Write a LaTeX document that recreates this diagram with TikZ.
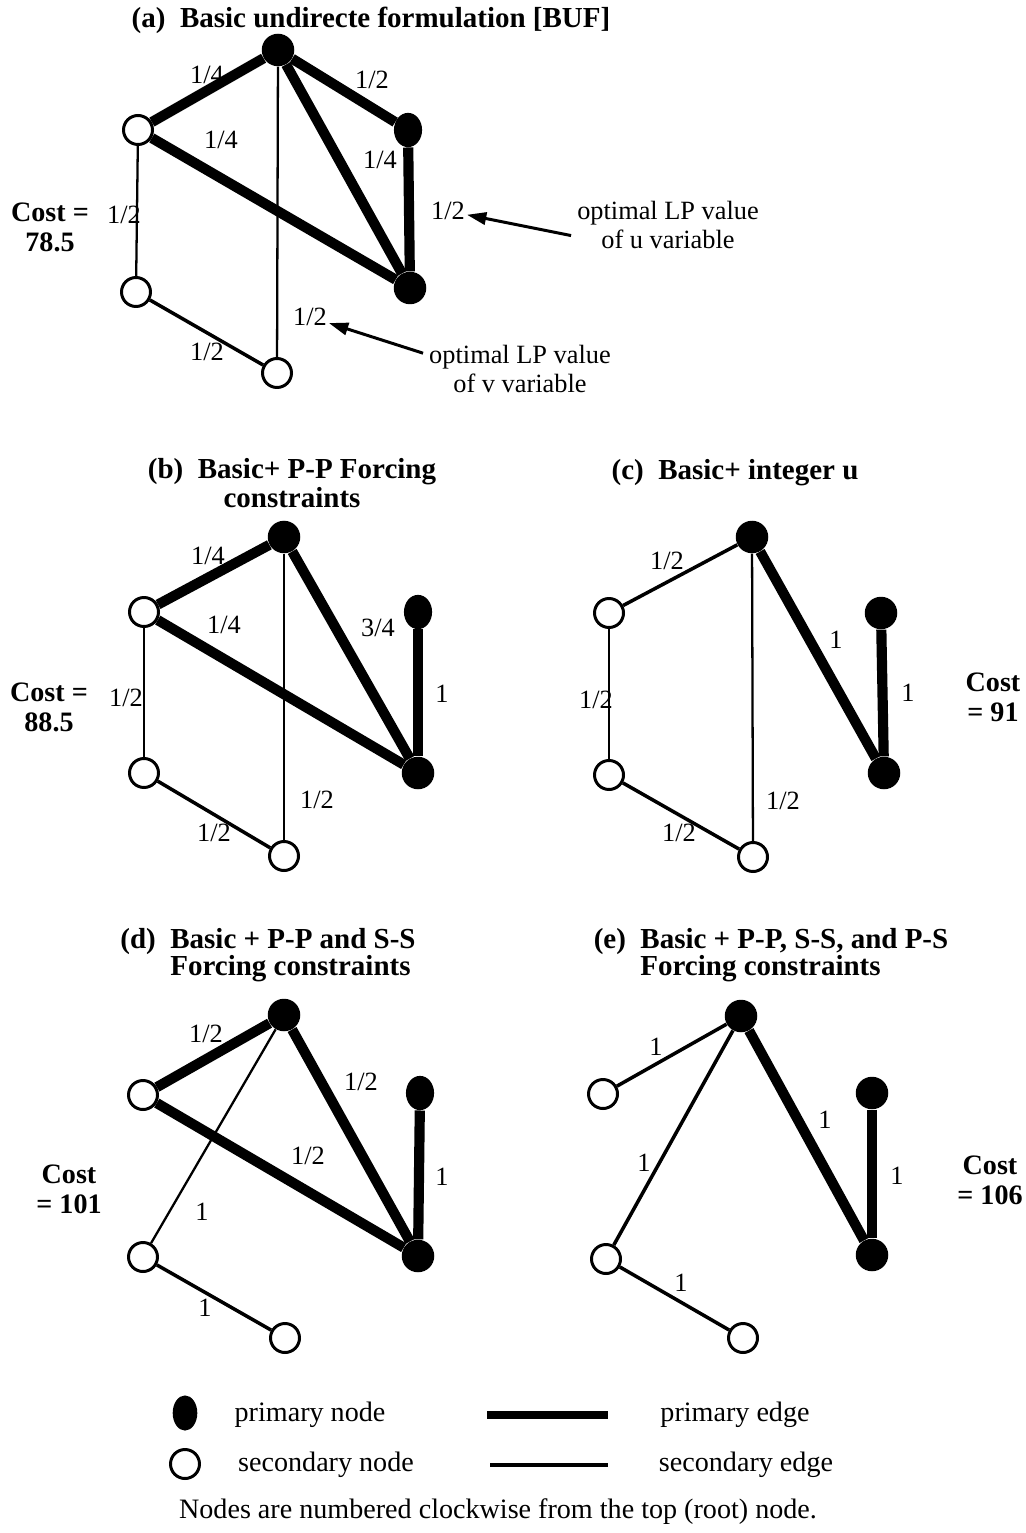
\documentclass[tikz,border=0pt]{standalone}
\usepackage{fontspec}
\setmainfont{Liberation Serif}
\usetikzlibrary{arrows.meta,shapes.geometric}

\begin{document}
\begin{tikzpicture}[x=0.02cm, y=-0.02cm, every node/.style={font=\fontsize{15}{17}\selectfont}, pnode/.style={circle,fill=black,inner sep=0pt,minimum size=18.5pt}, pnodes/.style={ellipse,fill=black,inner sep=0pt,minimum width=16pt,minimum height=19.5pt}, snode/.style={circle,draw=black,fill=white,line width=1.7pt,inner sep=0pt,minimum size=16.5pt}, pedge/.style={line width=5.8pt}, sedge/.style={line width=1.3pt}, sedgeb/.style={line width=2pt}, lbl/.style={inner sep=1pt}, ttl/.style={font=\fontsize{16.5}{15}\selectfont\bfseries,align=left}, cost/.style={font=\fontsize{16}{17}\selectfont\bfseries,align=center}, note/.style={align=center,font=\fontsize{15}{16}\selectfont}, key/.style={font=\fontsize{16}{18}\selectfont}, arr/.style={-{Triangle[length=11pt,width=7pt]},line width=1.7pt}]
\fill[white] (0,0) rectangle (1026,1533);
\useasboundingbox (0,0) rectangle (1026,1533);

% (a)
\node[ttl] (ta) at (371,20) {(a)\ \ Basic undirecte formulation [BUF]};
\node[pnode] (a1) at (278,50) {};
\node[pnodes] (a2) at (408,130) {};
\node[pnode] (a3) at (410,288) {};
\node[snode] (a4) at (277,373) {};
\node[snode] (a5) at (136,292) {};
\node[snode] (a6) at (138,130) {};
\draw[pedge] (a1)--(a6); \draw[pedge] (a1)--(a2); \draw[pedge] (a1)--(a3); \draw[pedge] (a6)--(a3); \draw[pedge] (a2)--(a3);
\draw[sedge] (a6)--(a5); \draw[sedge] (a1)--(a4); \draw[sedgeb] (a5)--(a4);
\node[lbl] (a16) at (207,75) {1/4};
\node[lbl] (a12) at (372,80) {1/2};
\node[lbl] (a63) at (221,140) {1/4};
\node[lbl] (a13) at (380,160) {1/4};
\node[lbl] (a23) at (448,211) {1/2};
\node[lbl] (a65) at (124,215) {1/2};
\node[lbl] (a14) at (310,317) {1/2};
\node[lbl] (a54) at (207,352) {1/2};
\node[cost] (ca) at (50,227) {Cost =\\78.5};
\node[note] (un) at (668,225) {optimal LP value\\of u variable};
\node[note] (vn) at (520,369) {optimal LP value\\of v variable};
\draw[arr] ([yshift=-6pt]un.west) -- (a23);
\draw[arr] ([yshift=9pt]vn.west) -- (a14);

% (b)
\node[ttl,align=center] (tb) at (292,483) {(b)\ \ Basic+ P-P Forcing\\constraints};
\node[pnode] (b1) at (284,537) {};
\node[pnodes] (b2) at (418,612) {};
\node[pnode] (b3) at (418,773) {};
\node[snode] (b4) at (284,856) {};
\node[snode] (b5) at (144,773) {};
\node[snode] (b6) at (144,612) {};
\draw[pedge] (b1)--(b6); \draw[pedge] (b6)--(b3); \draw[pedge] (b1)--(b3); \draw[pedge] (b2)--(b3);
\draw[sedge] (b6)--(b5); \draw[sedge] (b1)--(b4); \draw[sedgeb] (b5)--(b4);
\node[lbl] (b16) at (208,556) {1/4};
\node[lbl] (b63) at (224,625) {1/4};
\node[lbl] (b13) at (378,628) {3/4};
\node[lbl] (b23) at (442,694) {1};
\node[lbl] (b65) at (126,698) {1/2};
\node[lbl] (b14) at (317,800) {1/2};
\node[lbl] (b54) at (214,833) {1/2};
\node[cost] (cb) at (49,707) {Cost =\\88.5};

% (c)
\node[ttl] (tc) at (735,473) {(c)\ \ Basic+ integer u};
\node[pnode] (c1) at (752,537) {};
\node[pnode] (c2) at (881,613) {};
\node[pnode] (c3) at (884,773) {};
\node[snode] (c4) at (753,857) {};
\node[snode] (c5) at (609,775) {};
\node[snode] (c6) at (609,613) {};
\draw[pedge] (c1)--(c3); \draw[pedge] (c2)--(c3);
\draw[sedgeb] (c1)--(c6); \draw[sedge] (c6)--(c5); \draw[sedge] (c1)--(c4); \draw[sedgeb] (c5)--(c4);
\node[lbl] (c16) at (667,561) {1/2};
\node[lbl] (c13) at (836,640) {1};
\node[lbl] (c23) at (908,693) {1};
\node[lbl] (c65) at (596,700) {1/2};
\node[lbl] (c14) at (783,801) {1/2};
\node[lbl] (c54) at (679,833) {1/2};
\node[cost] (cc) at (993,697) {Cost\\= 91};

% (d)
\node[ttl] (td) at (268,955) {(d)\ \ Basic + P-P and S-S\\\phantom{(d)\ \ }Forcing constraints};
\node[pnode] (d1) at (284,1015) {};
\node[pnodes] (d2) at (420,1093) {};
\node[pnode] (d3) at (418,1256) {};
\node[snode] (d4) at (285,1338) {};
\node[snode] (d5) at (143,1257) {};
\node[snode] (d6) at (143,1095) {};
\draw[pedge] (d1)--(d6); \draw[pedge] (d1)--(d3); \draw[pedge] (d6)--(d3); \draw[pedge] (d2)--(d3);
\draw[sedge] (d1)--(d5); \draw[sedgeb] (d5)--(d4);
\node[lbl] (d16) at (206,1034) {1/2};
\node[lbl] (d13) at (361,1082) {1/2};
\node[lbl] (d63) at (308,1156) {1/2};
\node[lbl] (d23) at (442,1177) {1};
\node[lbl] (d15) at (202,1212) {1};
\node[lbl] (d54) at (205,1308) {1};
\node[cost] (cd) at (69,1189) {Cost\\= 101};

% (e)
\node[ttl] (te) at (771,955) {(e)\ \ Basic + P-P, S-S, and P-S\\\phantom{(e)\ \ }Forcing constraints};
\node[pnode] (e1) at (741,1016) {};
\node[pnode] (e2) at (872,1093) {};
\node[pnode] (e3) at (872,1255) {};
\node[snode] (e4) at (743,1338) {};
\node[snode] (e5) at (606,1259) {};
\node[snode] (e6) at (603,1094) {};
\draw[pedge] (e1)--(e3); \draw[pedge] (e2)--(e3);
\draw[sedgeb] (e1)--(e6); \draw[sedgeb] (e1)--(e5); \draw[sedgeb] (e5)--(e4);
\node[lbl] (e16) at (656,1047) {1};
\node[lbl] (e13) at (825,1120) {1};
\node[lbl] (e15) at (644,1163) {1};
\node[lbl] (e23) at (897,1176) {1};
\node[lbl] (e54) at (681,1283) {1};
\node[cost] (ce) at (990,1180) {Cost\\= 106};

% legend
\node[pnodes,minimum width=14pt,minimum height=20pt] (kp) at (185,1413) {};
\node[snode] (ks) at (185,1464) {};
\node[key] (kpt) at (310,1415) {primary node};
\node[key] (kst) at (326,1465) {secondary node};
\coordinate (kpa) at (487,1415); \coordinate (kpb) at (608,1415);
\coordinate (ksa) at (490,1465); \coordinate (ksb) at (608,1465);
\draw[pedge,line width=4.5pt] (kpa)--(kpb); \draw[sedgeb] (ksa)--(ksb);
\node[key] (kpe) at (735,1415) {primary edge};
\node[key] (kse) at (746,1465) {secondary edge};
\node[key] (foot) at (498,1512) {Nodes are numbered clockwise from the top (root) node.};
\end{tikzpicture}
\end{document}
